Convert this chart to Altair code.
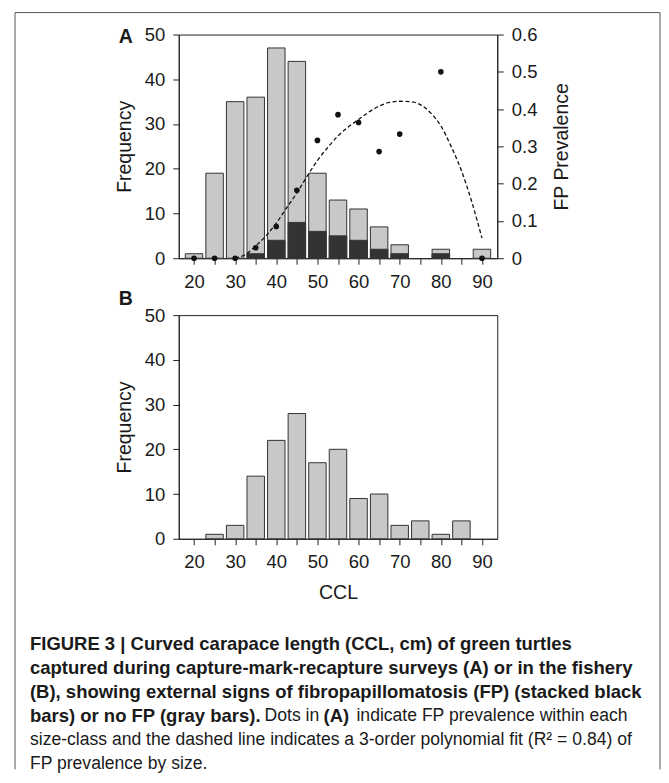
import altair as alt
import pandas as pd

# ---------------- data ----------------
ccl = [20, 25, 30, 35, 40, 45, 50, 55, 60, 65, 70, 75, 80, 85, 90]
total_a = [1, 19, 35, 36, 47, 44, 19, 13, 11, 7, 3, 0, 2, 0, 2]
fp_a = [0, 0, 0, 1, 4, 8, 6, 5, 4, 2, 1, 0, 1, 0, 0]
prev_ccl = [20, 25, 30, 35, 40, 45, 50, 55, 60, 65, 70, 80, 90]
prev_val = [0, 0, 0, 0.028, 0.085, 0.182, 0.316, 0.385, 0.364, 0.286, 0.333, 0.5, 0]
fit_ccl = [30, 32.5, 35, 37.5, 40, 42.5, 45, 47.5, 50, 52.5, 55, 57.5, 60,
           62.5, 65, 67.5, 70, 72.5, 75, 77.5, 80, 82.5, 85, 87.5, 90]
fit_val = [0, 0.01, 0.033, 0.06, 0.094, 0.135, 0.175, 0.22, 0.262, 0.297, 0.328,
           0.352, 0.372, 0.392, 0.408, 0.418, 0.421, 0.42, 0.412, 0.39, 0.355,
           0.30, 0.235, 0.152, 0.054]
total_b = [0, 1, 3, 14, 22, 28, 17, 20, 9, 10, 3, 4, 1, 4, 0]

df_a = pd.DataFrame({"ccl": ccl, "total": total_a, "fp": fp_a})
df_prev = pd.DataFrame({"ccl": prev_ccl, "prev": prev_val})
df_fit = pd.DataFrame({"ccl": fit_ccl, "prev": fit_val})
df_b = pd.DataFrame({"ccl": ccl, "total": total_b})

FONT = "Liberation Sans"
INK = "#1a1a1a"
W, H = 319, 224
BAR_W = 17.5

xscale = alt.Scale(domain=[17.5, 92.5], nice=False, zero=False)
xvals = list(range(20, 95, 5))
label_expr = "datum.value % 10 == 0 ? datum.label : ''"


def xaxis(title=None):
    return alt.Axis(values=xvals, labelExpr=label_expr, title=title,
                    labelPadding=8, titlePadding=12)


def txt(s, x, y, size=17.6, weight="normal", style="normal", align="left"):
    return alt.Chart(alt.Data(values=[{}])).mark_text(
        text=s, align=align, baseline="middle", font=FONT, fontSize=size,
        fontWeight=weight, fontStyle=style, color=INK
    ).encode(x=alt.value(x), y=alt.value(y))


def rule(**kw):
    return alt.Chart(alt.Data(values=[{}])).mark_rule(
        color="#555555", strokeWidth=1).encode(**{k: alt.value(v) for k, v in kw.items()})


yfreq = alt.Scale(domain=[0, 50], nice=False)
yaxis_freq = alt.Axis(values=[0, 10, 20, 30, 40, 50], title="Frequency",
                      labelPadding=8, titlePadding=10)

# ---------------- panel A ----------------
gray_a = alt.Chart(df_a).transform_filter("datum.total > 0").mark_bar(
    size=BAR_W, color="#c8c8c8", stroke="#333333", strokeWidth=1
).encode(
    x=alt.X("ccl:Q", scale=xscale, axis=xaxis()),
    y=alt.Y("total:Q", scale=yfreq, axis=yaxis_freq),
)
black_a = alt.Chart(df_a).transform_filter("datum.fp > 0").mark_bar(
    size=BAR_W, color="#333333", stroke="#333333", strokeWidth=1
).encode(
    x=alt.X("ccl:Q", scale=xscale, axis=xaxis()),
    y=alt.Y("fp:Q", scale=yfreq, axis=yaxis_freq),
)
bars_a = alt.layer(gray_a, black_a)

yprev = alt.Scale(domain=[0, 0.6], nice=False)
yaxis_prev = alt.Axis(orient="right", values=[0, 0.1, 0.2, 0.3, 0.4, 0.5, 0.6],
                      format=".1~f", title="FP Prevalence", titleAngle=270,
                      titleBaseline="top", labelPadding=8, titlePadding=16)
fit_line = alt.Chart(df_fit).mark_line(
    color="#111111", strokeWidth=1.3, strokeDash=[4, 2.5], interpolate="monotone"
).encode(
    x=alt.X("ccl:Q", scale=xscale, axis=xaxis()),
    y=alt.Y("prev:Q", scale=yprev, axis=yaxis_prev),
)
dots = alt.Chart(df_prev).mark_circle(size=32, color="#111111", opacity=1).encode(
    x=alt.X("ccl:Q", scale=xscale, axis=xaxis()),
    y=alt.Y("prev:Q", scale=yprev, axis=yaxis_prev),
)
prev_layer = alt.layer(fit_line, dots)

label_a = txt("A", -53, 2, size=19.5, weight="bold", align="center")

panel_a = alt.layer(bars_a, prev_layer, label_a).resolve_scale(
    y="independent").properties(width=W, height=H)

# ---------------- panel B ----------------
gray_b = alt.Chart(df_b).transform_filter("datum.total > 0").mark_bar(
    size=BAR_W, color="#c8c8c8", stroke="#333333", strokeWidth=1
).encode(
    x=alt.X("ccl:Q", scale=xscale, axis=xaxis("CCL")),
    y=alt.Y("total:Q", scale=yfreq, axis=yaxis_freq),
)
label_b = txt("B", -53, -16, size=19.5, weight="bold", align="center")

# caption (positions relative to panel B plot origin)
CX = -149
L = [329, 353.2, 377.4, 401.6, 425.8, 450]
BS = 18.5
cap = [
    txt("FIGURE 3 | Curved carapace length (CCL, cm) of green turtles", CX, L[0], size=BS, weight="bold"),
    txt("captured during capture-mark-recapture surveys (A) or in the fishery", CX, L[1], size=BS, weight="bold"),
    txt("(B), showing external signs of fibropapillomatosis (FP) (stacked black", CX, L[2], size=BS, weight="bold"),
    txt("bars) or no FP (gray bars).", CX, L[3], size=BS, weight="bold"),
    txt("Dots in", 86, L[3]),
    txt("(A)", 145, L[3], size=BS, weight="bold"),
    txt("indicate FP prevalence within each", 178, L[3]),
    txt("size-class and the dashed line indicates a 3-order polynomial fit (R\u00b2 = 0.84) of", CX, L[4]),
    txt("FP prevalence by size.", CX, L[5]),
]

border = [
    rule(x=-164, x2=482, y=-303),
    rule(x=-164, y=-303, y2=455),
    rule(x=482, y=-303, y2=455),
]

panel_b = alt.layer(gray_b, label_b, *cap, *border).properties(width=W, height=H)

chart = alt.vconcat(panel_a, panel_b, spacing=57).properties(
    bounds="flush",
    padding={"left": 6, "top": 3, "right": 0, "bottom": 0},
).configure_view(
    stroke="#222222", strokeWidth=1
).configure_axis(
    labelFont=FONT, titleFont=FONT, labelFontSize=18.5, titleFontSize=19.5,
    titleFontWeight="normal", labelColor=INK, titleColor=INK,
    domainColor="#222222", tickColor="#222222", tickSize=6, grid=False,
)

chart.save("out.html", embed_options={"renderer": "svg", "actions": False})
